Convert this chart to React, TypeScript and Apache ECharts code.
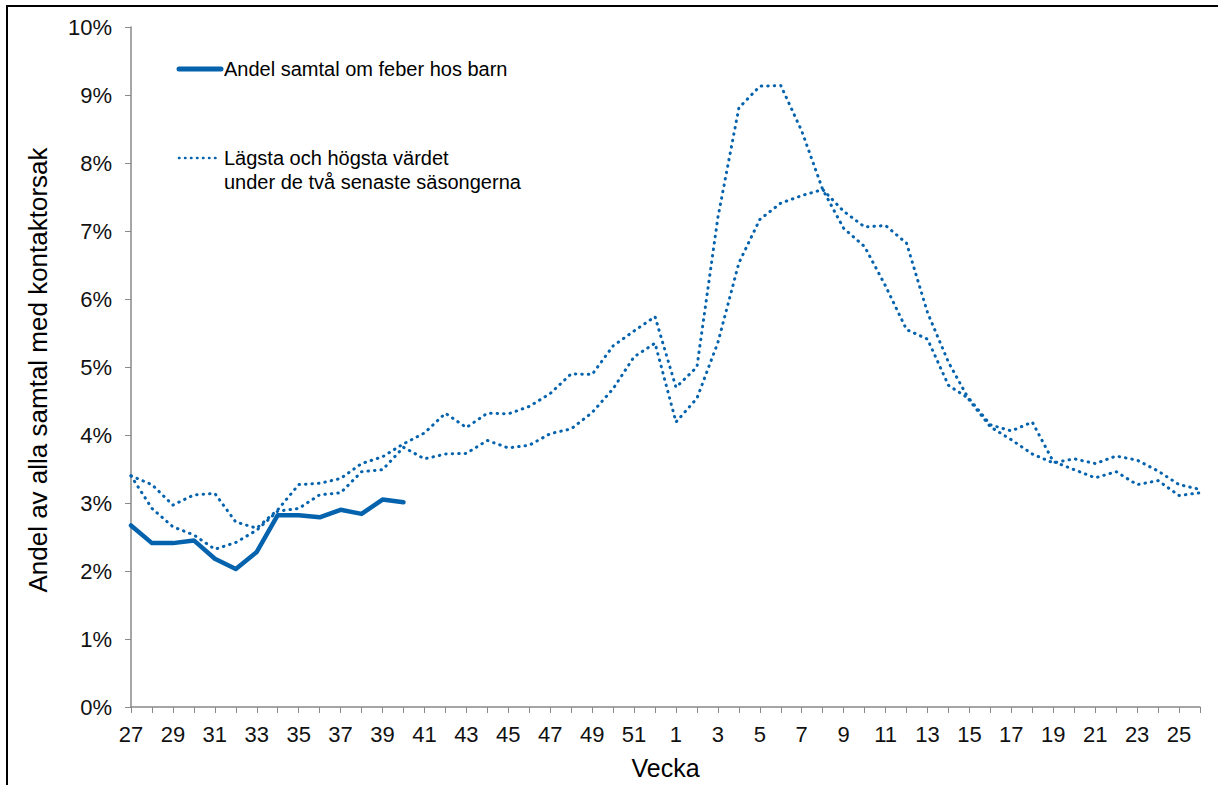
import React, { useEffect, useRef } from "react";
import * as echarts from "echarts";

const weeks: string[] = [
  "27", "28", "29", "30", "31", "32", "33", "34", "35", "36", "37", "38", "39", "40",
  "41", "42", "43", "44", "45", "46", "47", "48", "49", "50", "51", "52",
  "1", "2", "3", "4", "5", "6", "7", "8", "9", "10", "11", "12", "13",
  "14", "15", "16", "17", "18", "19", "20", "21", "22", "23", "24", "25", "26",
];

// Andel samtal om feber hos barn (%)
const feberBarn: number[] = [2.67, 2.41, 2.41, 2.45, 2.18, 2.03, 2.28, 2.82, 2.82, 2.79, 2.9, 2.84, 3.05, 3.01];

// Two previous seasons (%), drawn as dotted lines
const saesongA: number[] = [
  3.4, 3.27, 2.97, 3.12, 3.14, 2.72, 2.63, 2.9, 3.27, 3.29, 3.36, 3.58, 3.68, 3.87,
  4.03, 4.32, 4.11, 4.32, 4.31, 4.42, 4.61, 4.9, 4.89, 5.31, 5.53, 5.74,
  4.7, 5.0, 7.2, 8.81, 9.13, 9.14, 8.47, 7.61, 7.04, 6.77, 6.19, 5.55, 5.41,
  4.73, 4.53, 4.15, 4.06, 4.19, 3.61, 3.49, 3.37, 3.46, 3.27, 3.33, 3.11, 3.15,
];
const saesongB: number[] = [
  3.4, 2.92, 2.65, 2.53, 2.32, 2.42, 2.6, 2.88, 2.92, 3.12, 3.15, 3.46, 3.49, 3.82,
  3.65, 3.72, 3.73, 3.92, 3.81, 3.85, 4.02, 4.09, 4.33, 4.68, 5.15, 5.35,
  4.19, 4.54, 5.36, 6.53, 7.17, 7.41, 7.52, 7.61, 7.29, 7.06, 7.08, 6.82, 5.8,
  5.07, 4.51, 4.12, 3.93, 3.72, 3.59, 3.65, 3.58, 3.69, 3.63, 3.47, 3.27, 3.2,
];

const mainName = "Andel samtal om feber hos barn";
const rangeName = "Lägsta och högsta värdet\nunder de två senaste säsongerna";
const yTitle = "Andel av alla samtal med kontaktorsak";
const xTitle = "Vecka";

const BLUE = "#0563AE";
const FONT = "'Liberation Sans', Arial, sans-serif";

export default function App() {
  const ref = useRef<HTMLDivElement>(null);

  useEffect(() => {
    const chart = echarts.init(ref.current!, null, { renderer: "svg" });
    const dotted = {
      type: [0.5, 6],
      width: 3,
      cap: "round",
      color: BLUE,
    };
    chart.setOption({
      animation: false,
      backgroundColor: "#fff",
      grid: { left: 131, right: 18, top: 27, bottom: 73, containLabel: false },
      xAxis: {
        type: "category",
        data: weeks,
        boundaryGap: false,
        name: xTitle,
        nameLocation: "middle",
        nameGap: 48,
        nameTextStyle: { fontFamily: FONT, fontSize: 25, color: "#000" },
        axisLine: { lineStyle: { color: "#898989", width: 1.5 } },
        axisTick: { show: true, interval: 0, length: 6, lineStyle: { color: "#898989" } },
        axisLabel: { interval: 1, fontFamily: FONT, fontSize: 22, color: "#111", margin: 16 },
        splitLine: { show: false },
      },
      yAxis: {
        type: "value",
        min: 0,
        max: 10,
        interval: 1,
        name: yTitle,
        nameLocation: "middle",
        nameRotate: 90,
        nameGap: 80,
        nameTextStyle: { fontFamily: FONT, fontSize: 26, color: "#000", padding: [0, 0, 0, -6] },
        axisLine: { show: true, lineStyle: { color: "#898989", width: 1.5 } },
        axisTick: { show: true, length: 6, lineStyle: { color: "#898989" } },
        axisLabel: { formatter: "{value}%", fontFamily: FONT, fontSize: 22, color: "#111", margin: 19 },
        splitLine: { show: false },
      },
      series: [
        {
          name: rangeName,
          type: "line",
          data: saesongA,
          symbol: "none",
          lineStyle: dotted,
          z: 2,
        },
        {
          name: rangeName,
          type: "line",
          data: saesongB,
          symbol: "none",
          lineStyle: dotted,
          z: 2,
        },
        {
          name: mainName,
          type: "line",
          data: feberBarn,
          symbol: "none",
          lineStyle: { color: BLUE, width: 4.5, join: "round", cap: "round" },
          z: 3,
        },
      ],
      graphic: [
        {
          type: "rect",
          shape: { x: 7, y: 6, width: 1400, height: 1000 },
          style: { fill: "none", stroke: "#000", lineWidth: 2 },
          silent: true,
        },
        {
          type: "line",
          shape: { x1: 179, y1: 69, x2: 221, y2: 69 },
          style: { stroke: BLUE, lineWidth: 5, lineCap: "round" },
        },
        {
          type: "text",
          x: 224,
          y: 69,
          style: { text: mainName, fontFamily: FONT, fontSize: 20, fill: "#000", verticalAlign: "middle" },
        },
        {
          type: "line",
          shape: { x1: 179, y1: 158, x2: 221, y2: 158 },
          style: { stroke: BLUE, lineWidth: 2.5, lineDash: [0.5, 5.5], lineCap: "round" },
        },
        {
          type: "text",
          x: 224,
          y: 146,
          style: {
            text: rangeName,
            fontFamily: FONT,
            fontSize: 20,
            lineHeight: 24,
            fill: "#000",
            verticalAlign: "top",
          },
        },
      ],
    });
    return () => chart.dispose();
  }, []);

  return (
    <div
      ref={ref}
      style={{ position: "fixed", left: 0, top: 0, width: 1218, height: 785, background: "#fff" }}
    />
  );
}
